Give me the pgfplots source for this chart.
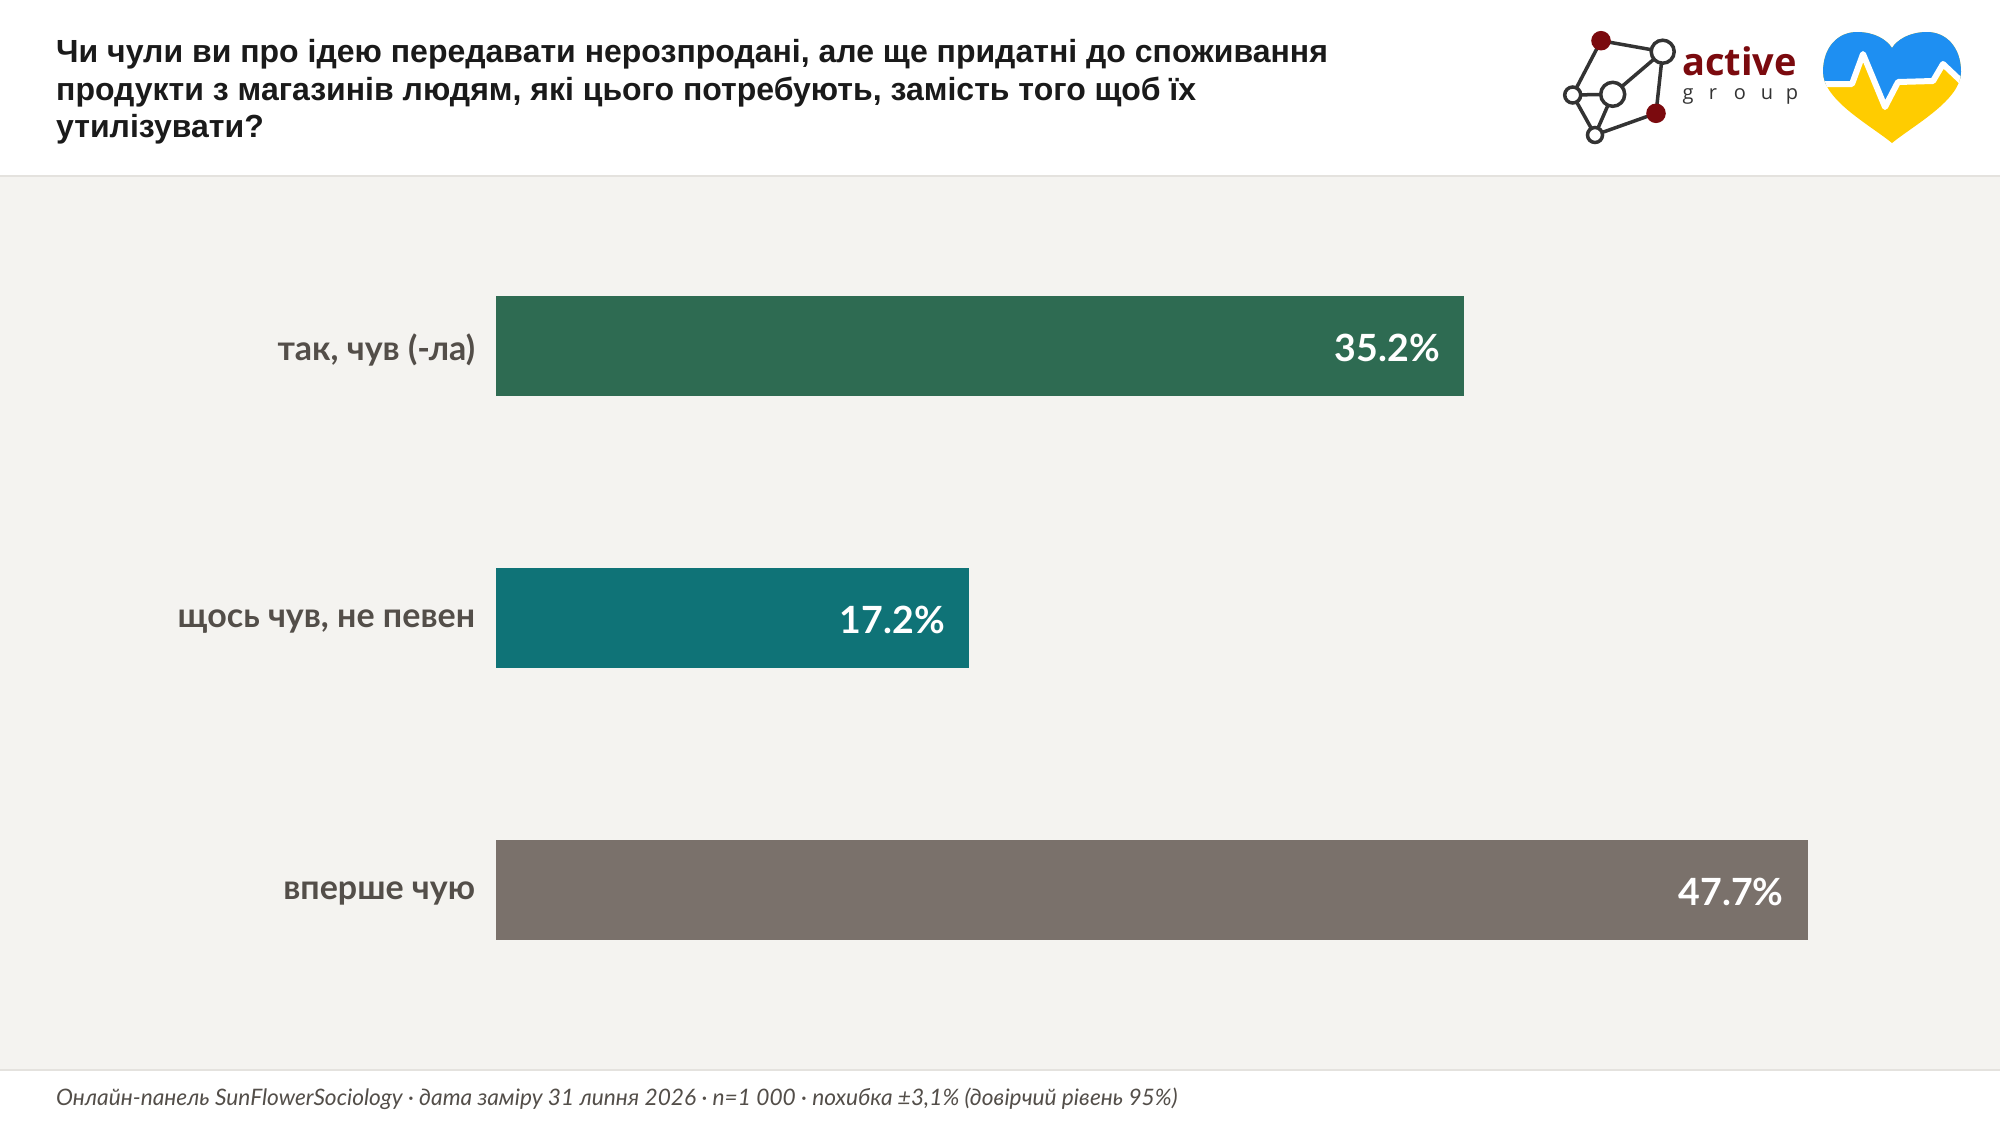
\documentclass[border=0pt]{standalone}
\usepackage{pgfplots}
\pgfplotsset{compat=1.18}
\usepackage{fontspec}
\setmainfont{Lato}
\newfontfamily\titlefont{Liberation Sans}
\newfontfamily\opensans{Open Sans}
\definecolor{panel}{HTML}{F4F3F0}
\definecolor{sepline}{HTML}{E4E2DE}
\definecolor{titlec}{HTML}{1A1A1A}
\definecolor{labelc}{HTML}{534E49}
\definecolor{barA}{HTML}{2E6B52}
\definecolor{barB}{HTML}{0F7377}
\definecolor{barC}{HTML}{7A716B}
\definecolor{logored}{HTML}{7B0A0E}
\definecolor{logogrey}{HTML}{333333}
\definecolor{heartblue}{HTML}{1E8FF2}
\definecolor{heartyellow}{HTML}{FFCC00}
\begin{document}
\begin{tikzpicture}
\begin{scope}[x=1bp,y=-1bp]
\path[use as bounding box] (0,0) rectangle (2000,1126);
\fill[white] (0,0) rectangle (2000,1126);
\fill[panel] (0,176) rectangle (2000,1070);
\draw[sepline, line width=1.5bp] (0,176) -- (2000,176);
\draw[sepline, line width=1.5bp] (0,1070) -- (2000,1070);
% title
\begin{scope}[every node/.style={anchor=base west, inner sep=0pt, text=titlec, font=\titlefont\bfseries\fontsize{32bp}{36bp}\selectfont}]
\node at (56,62.7) {Чи чули ви про ідею передавати нерозпродані, але ще придатні до споживання};
\node at (56,100.2) {продукти з магазинів людям, які цього потребують, замість того щоб їх};
\node at (56,137.7) {утилізувати?};
\end{scope}
% footer
\node[anchor=base west, inner sep=0pt, text=labelc, font=\itshape\fontsize{22.7bp}{26bp}\selectfont] at (56,1105) {Онлайн-панель SunFlowerSociology · дата заміру 31 липня 2026 · n=1 000 · похибка ±3,1\% (довірчий рівень 95\%)};
% network logo
\begin{scope}[line width=3.5bp, draw=logogrey]
\draw (1601,40.7) -- (1662.7,51.7) -- (1656,113.3) -- (1595,135) -- (1572.7,95) -- (1601,40.7);
\draw (1572.7,95) -- (1612.7,94.3) -- (1662.7,51.7);
\draw (1612.7,94.3) -- (1595,135);
\filldraw[fill=white] (1662.7,51.7) circle (11.5);
\filldraw[fill=white] (1612.7,94.3) circle (12);
\filldraw[fill=white] (1572.7,95) circle (8);
\filldraw[fill=white] (1595,135) circle (7.5);
\filldraw[fill=logored, draw=logored] (1601,40.7) circle (8);
\filldraw[fill=logored, draw=logored] (1656,113.3) circle (8);
\end{scope}
\node[anchor=base west, inner sep=0pt, text=logored, font=\opensans\bfseries\fontsize{38bp}{40bp}\selectfont] at (1682,75) {active};
\begin{scope}[every node/.style={anchor=base, inner sep=0pt, text=logogrey, font=\opensans\fontsize{20bp}{22bp}\selectfont}]
\node at (1688,99.5) {g};
\node at (1713,99.5) {r};
\node at (1740,99.5) {o};
\node at (1767,99.5) {u};
\node at (1792,99.5) {p};
\end{scope}
% heart
\begin{scope}
\clip (1892,143) .. controls (1870,125) and (1823,100) .. (1823,72)
 .. controls (1823,47) and (1838,32) .. (1857,32)
 .. controls (1875,32) and (1887,40) .. (1892,48)
 .. controls (1897,40) and (1909,32) .. (1927,32)
 .. controls (1946,32) and (1961,47) .. (1961,72)
 .. controls (1961,100) and (1914,125) .. (1892,143) -- cycle;
\fill[heartyellow] (1810,20) rectangle (1975,150);
\fill[heartblue] (1810,20) -- (1810,84) -- (1852,84) -- (1863,54) -- (1885,107) -- (1898,82) -- (1933,81) -- (1943,64) -- (1962,82) -- (1975,82) -- (1975,20) -- cycle;
\draw[white, line width=6bp, line join=round] (1810,84) -- (1852,84) -- (1863,54) -- (1885,107) -- (1898,82) -- (1933,81) -- (1943,64) -- (1962,82) -- (1975,82);
\end{scope}
\end{scope}
\begin{axis}[
  at={(496bp,-209.8bp)}, anchor=north west,
  scale only axis, width=1375bp, height=816bp,
  xmin=0, xmax=50, ymin=-0.5, ymax=2.5, y dir=reverse,
  xbar, bar width=100bp, bar shift=0pt,
  axis line style={draw=none}, tick style={draw=none},
  xtick=\empty, ytick={0,1,2},
  yticklabels={{так, чув (-ла)},{щось чув, не певен},{вперше чую}},
  yticklabel style={font=\bfseries\fontsize{34bp}{38bp}\selectfont, text=labelc, inner sep=0pt, xshift=-16.5bp, yshift=-4bp},
  clip=false,
  point meta=explicit symbolic,
  nodes near coords,
  every node near coord/.append style={anchor=east, xshift=-24bp, yshift=-2.5bp, inner sep=0pt, text=white, font=\bfseries\fontsize{37.5bp}{40bp}\selectfont},
]
\addplot[fill=barA, draw=none] coordinates {(35.2,0) [35.2\%]};
\addplot[fill=barB, draw=none] coordinates {(17.2,1) [17.2\%]};
\addplot[fill=barC, draw=none] coordinates {(47.7,2) [47.7\%]};
\end{axis}
\end{tikzpicture}
\end{document}
